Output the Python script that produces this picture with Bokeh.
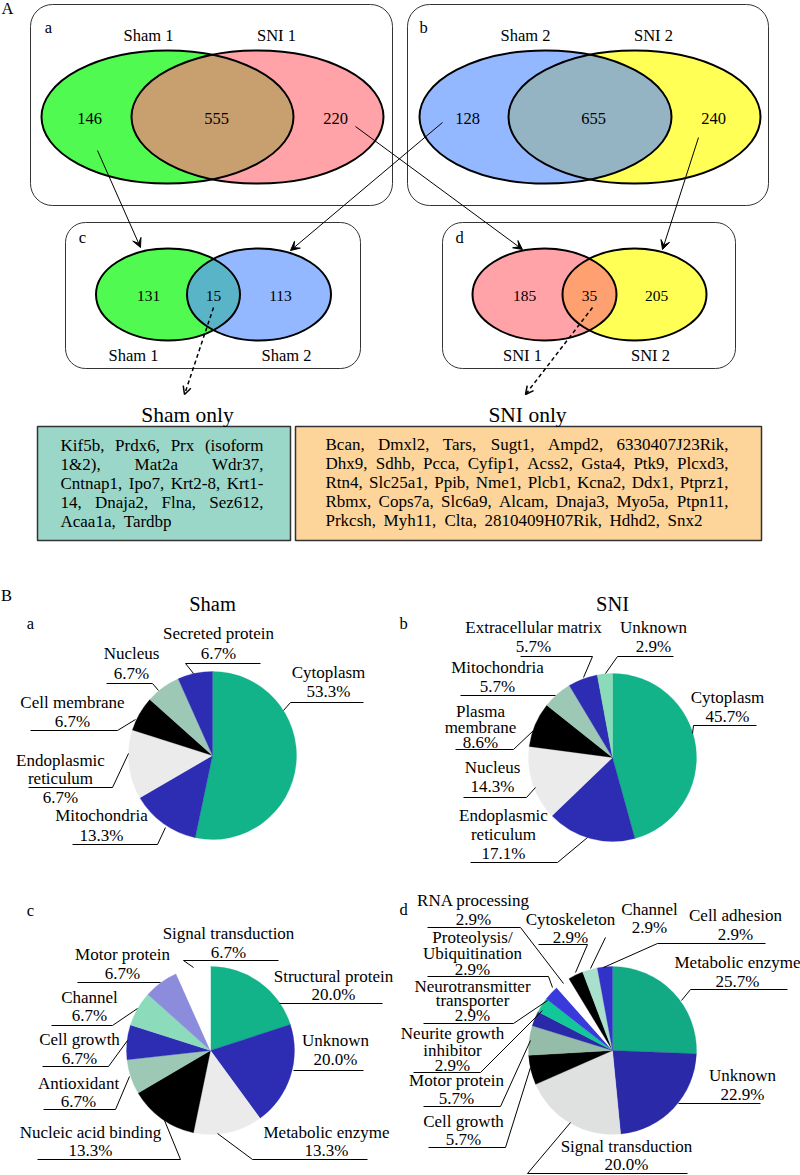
import numpy as np
from bokeh.plotting import figure
from bokeh.models import Range1d, Arrow, VeeHead, OpenHead, ColumnDataSource
from bokeh.core.properties import value
from bokeh.embed import file_html
from bokeh.resources import INLINE

# ---------------- data ----------------
venn_a_sets = ["Sham 1", "SNI 1"]
venn_a_counts = [146, 555, 220]
venn_b_sets = ["Sham 2", "SNI 2"]
venn_b_counts = [128, 655, 240]
venn_c_sets = ["Sham 1", "Sham 2"]
venn_c_counts = [131, 15, 113]
venn_d_sets = ["SNI 1", "SNI 2"]
venn_d_counts = [185, 35, 205]

sham_only_title = "Sham only"
sham_only_genes = [
    ["Kif5b,", "Prdx6,", "Prx", "(isoform"],
    ["1&2),", "Mat2a", "Wdr37,"],
    ["Cntnap1,", "Ipo7,", "Krt2-8,", "Krt1-"],
    ["14,", "Dnaja2,", "Flna,", "Sez612,"],
    ["Acaa1a,", "Tardbp"],
]
sni_only_title = "SNI only"
sni_only_genes = [
    ["Bcan,", "Dmxl2,", "Tars,", "Sugt1,", "Ampd2,", "6330407J23Rik,"],
    ["Dhx9,", "Sdhb,", "Pcca,", "Cyfip1,", "Acss2,", "Gsta4,", "Ptk9,", "Plcxd3,"],
    ["Rtn4,", "Slc25a1,", "Ppib,", "Nme1,", "Plcb1,", "Kcna2,", "Ddx1,", "Ptprz1,"],
    ["Rbmx,", "Cops7a,", "Slc6a9,", "Alcam,", "Dnaja3,", "Myo5a,", "Ptpn11,"],
    ["Prkcsh,", "Myh11,", "Clta,", "2810409H07Rik,", "Hdhd2,", "Snx2"],
]

sham_loc_names = ["Cytoplasm", "Mitochondria", "Endoplasmic\nreticulum", "Cell membrane",
                  "Nucleus", "Secreted protein"]
sham_loc_values = [53.3, 13.3, 13.3, 6.7, 6.7, 6.7]
sham_loc_pct = ["53.3%", "13.3%", "6.7%", "6.7%", "6.7%", "6.7%"]

sni_loc_names = ["Cytoplasm", "Endoplasmic\nreticulum", "Nucleus", "Plasma\nmembrane",
                 "Mitochondria", "Extracellular matrix", "Unknown"]
sni_loc_values = [45.7, 17.1, 14.3, 8.6, 5.7, 5.7, 2.9]
sni_loc_pct = ["45.7%", "17.1%", "14.3%", "8.6%", "5.7%", "5.7%", "2.9%"]

sham_fun_names = ["Structural protein", "Unknown", "Metabolic enzyme", "Nucleic acid binding",
                  "Antioxidant", "Cell growth", "Channel", "Motor protein", "Signal transduction"]
sham_fun_values = [20.0, 20.0, 13.3, 13.3, 6.7, 6.7, 6.7, 6.7, 6.7]
sham_fun_pct = ["20.0%", "20.0%", "13.3%", "13.3%", "6.7%", "6.7%", "6.7%", "6.7%", "6.7%"]

sni_fun_names = ["Metabolic enzyme", "Unknown", "Signal transduction", "Cell growth",
                 "Motor protein", "Neurite growth\ninhibitor", "Neurotransmitter\ntransporter",
                 "Proteolysis/\nUbiquitination", "RNA processing", "Cytoskeleton", "Channel",
                 "Cell adhesion"]
sni_fun_values = [25.7, 22.9, 20.0, 5.7, 5.7, 2.9, 2.9, 2.9, 2.9, 2.9, 2.9, 2.9]
sni_fun_pct = ["25.7%", "22.9%", "20.0%", "5.7%", "5.7%", "2.9%", "2.9%", "2.9%", "2.9%",
               "2.9%", "2.9%", "2.9%"]

# ---------------- styles / layout ----------------
FONT = "Liberation Serif"
W_REF, H_REF = 800, 1175
PW, PH = 800, 1175
SC = PW / W_REF

GREEN = "#12b389"
DBLUE = "#2d2db3"
LGRAY = "#ebebeb"
GGREEN = "#9dc8b5"

sham_loc_colors = [GREEN, DBLUE, LGRAY, "#000000", GGREEN, DBLUE]
sni_loc_colors = [GREEN, DBLUE, LGRAY, "#000000", GGREEN, DBLUE, "#8adbb8"]
sham_fun_colors = [GREEN, DBLUE, LGRAY, "#000000", GGREEN, DBLUE, "#8cdcbc", "#8c8cdc", "#ffffff"]
sni_fun_colors = ["#12a985", "#2a2aa8", "#dfe0e0", "#000000", "#94bca8", "#2a2aa8", "#12c898",
                  "#3a3adc", "#ffffff", "#000000", "#a8e0cc", "#3232c8"]

LBL = 17  # pie label font size

p = figure(width=PW, height=PH, x_range=Range1d(0, W_REF), y_range=Range1d(0, H_REF),
           output_backend="svg", toolbar_location=None, min_border=0,
           x_axis_location=None, y_axis_location=None)
p.grid.visible = False
p.outline_line_color = None
p.background_fill_color = "white"


def Y(py):
    return H_REF - py


def fs(px):
    return f"{px * SC:.2f}px"


def txt(x, y, s, size=16, align="center"):
    p.text(x=[x], y=[Y(y)], text=[s], text_font=value(FONT), text_font_size=fs(size),
           text_align=align, text_baseline="middle", text_color="black")


# ---------------- Part A: Venn diagrams ----------------
def rbox(l, r, t, b, radius=18):
    p.quad(left=[l], right=[r], top=[Y(t)], bottom=[Y(b)], fill_color=None,
           line_color="#333333", line_width=1, border_radius=radius)


def lens_patch(cx1, cx2, cy, rx, ry, color):
    mid = (cx1 + cx2) / 2
    t0 = np.arccos((mid - cx1) / rx)
    ta = np.linspace(-t0, t0, 80)
    tb = np.linspace(np.pi - t0, np.pi + t0, 80)
    xs = np.concatenate([cx1 + rx * np.cos(ta), cx2 + rx * np.cos(tb)])
    ys = np.concatenate([Y(cy) + ry * np.sin(ta), Y(cy) + ry * np.sin(tb)])
    p.patch(xs, ys, fill_color=color, line_color=None)


def venn(cx1, cx2, cy, w, h, c1, c2, c12, counts, sets, num_size, set_size, set_pos, num_pos):
    p.ellipse(x=[cx1], y=[Y(cy)], width=w, height=h, fill_color=c1, line_color=None)
    p.ellipse(x=[cx2], y=[Y(cy)], width=w, height=h, fill_color=c2, line_color=None)
    lens_patch(cx1, cx2, cy, w / 2, h / 2, c12)
    p.ellipse(x=[cx1, cx2], y=[Y(cy), Y(cy)], width=w, height=h, fill_color=None,
              line_color="black", line_width=2)
    for s, (x, y) in zip(sets, set_pos):
        txt(x, y, s, set_size)
    for n, x in zip(counts, num_pos):
        txt(x, cy + 1, str(n), num_size)


rbox(30, 392, 4, 205, 22)
rbox(407, 768, 4, 205, 22)
rbox(65, 360, 222, 368, 20)
rbox(442, 735, 222, 368, 20)

venn(167, 257, 116.5, 252, 133, "#50fa50", "#ffa3a8", "#c8a070", venn_a_counts, venn_a_sets,
     16.5, 16.5, [(148, 35), (276, 35)], [89, 216, 335])
venn(545, 634, 116.5, 252, 133, "#94b8ff", "#ffff55", "#94b4c4", venn_b_counts, venn_b_sets,
     16.5, 16.5, [(525, 35), (653, 35)], [467, 593, 713])
venn(167.5, 258.5, 294, 144, 92, "#50fa50", "#94b8ff", "#5ab4c8", venn_c_counts, venn_c_sets,
     15.5, 16.5, [(133, 355), (286, 355)], [148, 213, 280])
venn(544, 634, 294, 144, 92, "#ffa3a8", "#ffff55", "#ffa070", venn_d_counts, venn_d_sets,
     15.5, 16.5, [(522, 355), (650, 355)], [524, 589, 656])

txt(7, 8, "A", 16.5)
txt(48, 27, "a", 16.5)
txt(423, 27, "b", 16.5)
txt(82, 237, "c", 16.5)
txt(459, 237, "d", 16.5)

for (x0, y0, x1, y1) in [(97, 150, 140, 247), (442, 122, 290, 250),
                         (355, 126, 522, 249), (698, 137, 662, 249)]:
    p.add_layout(Arrow(end=VeeHead(size=9, fill_color="black", line_color="black", line_width=1),
                       x_start=x0, y_start=Y(y0), x_end=x1, y_end=Y(y1),
                       line_color="black", line_width=1))
for (x0, y0, x1, y1) in [(213, 307, 184, 394), (592, 307, 525, 394)]:
    p.add_layout(Arrow(end=OpenHead(size=8, line_color="black", line_width=1.5),
                       x_start=x0, y_start=Y(y0), x_end=x1, y_end=Y(y1),
                       line_color="black", line_width=1.5, line_dash="4 3"))

# ---------------- gene boxes ----------------
AFM = {' ': 250, '!': 333, '&': 778, '(': 333, ')': 333, ',': 250, '-': 333, '.': 250, '/': 278,
       '%': 833, ':': 278,
       'A': 722, 'B': 667, 'C': 667, 'D': 722, 'E': 611, 'F': 556, 'G': 722, 'H': 722, 'I': 333,
       'J': 389, 'K': 722, 'L': 611, 'M': 889, 'N': 722, 'O': 722, 'P': 556, 'Q': 722, 'R': 667,
       'S': 556, 'T': 611, 'U': 722, 'V': 722, 'W': 944, 'X': 722, 'Y': 722, 'Z': 611,
       'a': 444, 'b': 500, 'c': 444, 'd': 500, 'e': 444, 'f': 333, 'g': 500, 'h': 500, 'i': 278,
       'j': 278, 'k': 500, 'l': 278, 'm': 778, 'n': 500, 'o': 500, 'p': 500, 'q': 500, 'r': 333,
       's': 389, 't': 278, 'u': 500, 'v': 500, 'w': 722, 'x': 500, 'y': 500, 'z': 444}


def tw(s, size):
    return sum(AFM.get(ch, 500) for ch in s) / 1000.0 * size


def justify(lines, left, right, y0, dy, size, last_gap):
    for i, words in enumerate(lines):
        y = y0 + i * dy
        widths = [tw(w, size) for w in words]
        last = i == len(lines) - 1
        gap = last_gap if last else (right - left - sum(widths)) / (len(words) - 1)
        x = left
        for j, (w, wd) in enumerate(zip(words, widths)):
            if not last and j == len(words) - 1:
                txt(right, y, w, size, align="right")
            else:
                txt(x, y, w, size, align="left")
            x += wd + gap


p.quad(left=[37], right=[290], top=[Y(426)], bottom=[Y(540)], fill_color="#9bd7c8",
       line_color="#333333", line_width=1.5)
p.quad(left=[295], right=[761], top=[Y(426)], bottom=[Y(540)], fill_color="#fdd59a",
       line_color="#333333", line_width=1.5)
txt(187, 414, sham_only_title, 21.5)
txt(527, 414, sni_only_title, 21.5)
justify(sham_only_genes, 60, 263, 444.5, 19, 17, 8)
justify(sni_only_genes, 325, 728, 443.5, 19, 17, 7.5)

# ---------------- Part B: pies ----------------
def pie(cx, cy, r, values, colors):
    v = np.array(values, dtype=float)
    cum = np.concatenate([[0.0], np.cumsum(v / v.sum())]) * 2 * np.pi
    src = ColumnDataSource(dict(start=np.pi / 2 - cum[:-1], end=np.pi / 2 - cum[1:],
                                color=colors))
    p.wedge(x=cx, y=Y(cy), radius=r, start_angle="start", end_angle="end", direction="clock",
            fill_color="color", line_color="color", line_width=0.3, source=src)


def labels(names, pcts, layout):
    xs, ys = [], []
    for name, pct in zip(names, pcts):
        cx, ylist, poly = layout[name]
        lines = name.split("\n") + [pct]
        for line, y in zip(lines, ylist):
            txt(cx, y, line, LBL)
        xs.append([q[0] for q in poly])
        ys.append([Y(q[1]) for q in poly])
    p.multi_line(xs, ys, line_color="black", line_width=1)


txt(6, 595, "B", 16.5)
txt(212, 603, "Sham", 20.5)
txt(612, 603, "SNI", 20.5)
txt(30, 623, "a", 16.5)
txt(403, 623, "b", 16.5)
txt(30, 910, "c", 16.5)
txt(403, 909, "d", 16.5)

pie(212, 755, 84, sham_loc_values, sham_loc_colors)
labels(sham_loc_names, sham_loc_pct, {
    "Cytoplasm": (328, [672, 691], [(283, 710), (290, 702), (363, 702)]),
    "Mitochondria": (101, [815, 835], [(165, 827), (157, 844), (72, 844)]),
    "Endoplasmic\nreticulum": (60, [760, 778, 797], [(128, 753), (112, 787), (28, 787)]),
    "Cell membrane": (72, [702, 721], [(135, 719), (117, 730), (30, 730)]),
    "Nucleus": (131, [653, 673], [(158, 690), (152, 683), (106, 683)]),
    "Secreted protein": (218, [633, 653], [(193, 673), (185, 663), (260, 663)]),
})

pie(612, 757, 84, sni_loc_values, sni_loc_colors)
labels(sni_loc_names, sni_loc_pct, {
    "Cytoplasm": (727, [697, 716], [(692, 733), (693, 725), (756, 725)]),
    "Endoplasmic\nreticulum": (503, [815, 834, 853], [(587, 837), (557, 862), (470, 862)]),
    "Nucleus": (492, [767, 786], [(535, 787), (526, 797), (463, 797)]),
    "Plasma\nmembrane": (480, [711, 727, 742], [(533, 730), (513, 749), (455, 749)]),
    "Mitochondria": (497, [667, 686], [(555, 695), (460, 695)]),
    "Extracellular matrix": (533, [627, 646], [(583, 677), (592, 656), (520, 656)]),
    "Unknown": (653, [627, 646], [(605, 673), (617, 656), (673, 656)]),
})

pie(210, 1050, 84, sham_fun_values, sham_fun_colors)
labels(sham_fun_names, sham_fun_pct, {
    "Structural protein": (333, [976, 994], [(279, 1003), (382, 1003)]),
    "Unknown": (335, [1040, 1059], [(293, 1070), (363, 1070)]),
    "Metabolic enzyme": (326, [1132, 1150], [(217, 1133), (252, 1159), (367, 1159)]),
    "Nucleic acid binding": (90, [1132, 1150], [(162, 1115), (180, 1159), (37, 1159)]),
    "Antioxidant": (78, [1083, 1101], [(129, 1076), (115, 1109), (43, 1109)]),
    "Cell growth": (79, [1039, 1058], [(127, 1040), (108, 1066), (42, 1066)]),
    "Channel": (89, [997, 1015], [(137, 1008), (112, 1025), (51, 1025)]),
    "Motor protein": (122, [954, 973], [(160, 982), (77, 982)]),
    "Signal transduction": (228, [933, 952], [(193, 967), (183, 960), (278, 960)]),
})

pie(612, 1050, 84, sni_fun_values, sni_fun_colors)
labels(sni_fun_names, sni_fun_pct, {
    "Metabolic enzyme": (737, [962, 981], [(681, 1000), (690, 989), (787, 989)]),
    "Unknown": (742, [1075, 1094], [(678, 1103), (760, 1103)]),
    "Signal transduction": (626, [1146, 1164], [(570, 1122), (527, 1173), (687, 1173)]),
    "Cell growth": (463, [1121, 1139], [(530, 1067), (505, 1147), (428, 1147)]),
    "Motor protein": (456, [1080, 1098], [(530, 1040), (500, 1106), (423, 1106)]),
    "Neurite growth\ninhibitor": (452, [1033, 1050, 1065], [(542, 1010), (480, 1072), (413, 1072)]),
    "Neurotransmitter\ntransporter": (472, [986, 1000, 1015], [(547, 1000), (513, 1023), (423, 1023)]),
    "Proteolysis/\nUbiquitination": (472, [937, 953, 969], [(552, 987), (548, 976), (427, 976)]),
    "RNA processing": (473, [900, 919], [(563, 983), (520, 927), (427, 927)]),
    "Cytoskeleton": (570, [919, 937], [(575, 972), (587, 944), (538, 944)]),
    "Channel": (649, [909, 927], [(590, 968), (605, 937)]),
    "Cell adhesion": (735, [915, 934], [(603, 967), (657, 943), (765, 943)]),
})

open("out.html", "w").write(file_html(p, INLINE))
